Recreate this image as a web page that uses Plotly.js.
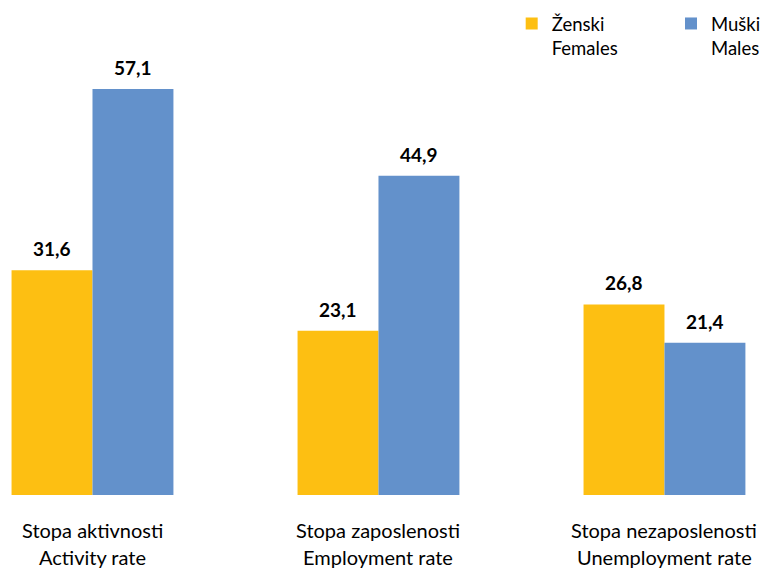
<!DOCTYPE html>
<html>
<head>
<meta charset="utf-8">
<script src="https://cdn.plot.ly/plotly-3.0.1.min.js"></script>
<style>html,body{margin:0;padding:0;background:#fff;}#chart{width:766px;height:570px;}</style>
</head>
<body>
<div id="chart"></div>
<script>
const categories = ["activity", "employment", "unemployment"];
const labelLine1 = ["Stopa aktivnosti", "Stopa zaposlenosti", "Stopa nezaposlenosti"];
const labelLine2 = ["Activity rate", "Employment rate", "Unemployment rate"];
const femaleValues = [31.6, 23.1, 26.8];
const maleValues = [57.1, 44.9, 21.4];
const seriesNames = ["Ženski<br>Females", "Muški<br>Males"];

const FONT = "Lato, 'Liberation Sans', sans-serif";
const BARGAP = 0.434;
const halfBar = (1 - BARGAP) / 4; // offset of each bar centre from category centre

const traces = [
  {type: "bar", x: categories, y: femaleValues, name: seriesNames[0], legend: "legend",
   marker: {color: "#FDBF12"}, hoverinfo: "skip"},
  {type: "bar", x: categories, y: maleValues, name: seriesNames[1], legend: "legend2",
   marker: {color: "#6391CB"}, hoverinfo: "skip"}
];

const annotations = [];
const fmt = v => v.toFixed(1).replace(".", ",");
categories.forEach((c, i) => {
  annotations.push({x: i, xref: "x", y: -0.0707, yref: "paper", yanchor: "middle",
    text: labelLine1[i], showarrow: false, font: {family: FONT, size: 20, color: "#000"}});
  annotations.push({x: i, xref: "x", y: -0.1253, yref: "paper", yanchor: "middle",
    text: labelLine2[i], showarrow: false, font: {family: FONT, size: 20, color: "#000"}});
  [[femaleValues, -halfBar], [maleValues, halfBar]].forEach(([vals, off]) => {
    annotations.push({x: i + off, xref: "x", y: vals[i], yref: "y", yanchor: "bottom",
      yshift: 8, text: "<b>" + fmt(vals[i]) + "</b>", showarrow: false,
      font: {family: FONT, size: 19, color: "#000"}});
  });
});

const legendBase = {orientation: "v", y: 0.99, xanchor: "left", yanchor: "top", valign: "top",
  font: {family: FONT, size: 18.5, color: "#000"}, bgcolor: "rgba(0,0,0,0)"};

const layout = {
  width: 766, height: 570,
  margin: {l: 0, r: 0, t: 0, b: 75},
  paper_bgcolor: "#fff", plot_bgcolor: "#fff",
  barmode: "group", bargap: BARGAP, bargroupgap: 0,
  showlegend: true,
  legend: Object.assign({}, legendBase, {x: 0.668}),
  legend2: Object.assign({}, legendBase, {x: 0.876}),
  xaxis: {range: [-0.3234, 2.355], showticklabels: false, showgrid: false, zeroline: false,
    showline: false, ticks: "", fixedrange: true},
  yaxis: {range: [0, 69.6], visible: false, showgrid: false, zeroline: false, fixedrange: true},
  annotations: annotations
};

Plotly.newPlot("chart", traces, layout, {displayModeBar: false, staticPlot: true});
</script>
</body>
</html>
